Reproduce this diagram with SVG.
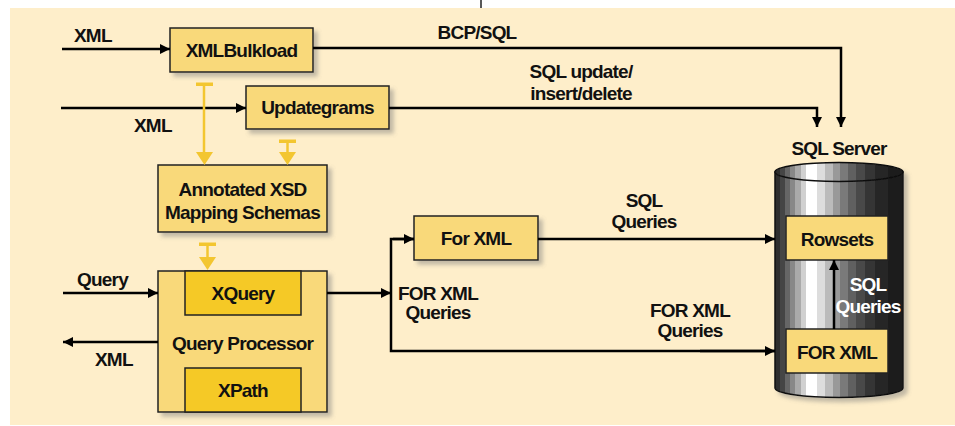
<svg xmlns="http://www.w3.org/2000/svg" width="955" height="426" viewBox="0 0 955 426">
<defs>
<style>
text{font-family:"Liberation Sans",Arial,sans-serif;font-weight:bold;font-size:19px;letter-spacing:-0.8px;fill:#111;text-anchor:middle}
.lbl{text-anchor:start}
.box{fill:#F9D97A;stroke:#222;stroke-width:1.5}
.inner{fill:#F5C926;stroke:#222;stroke-width:1.5}
.ln{fill:none;stroke:#000;stroke-width:2.5}
.yl{fill:none;stroke:#F3C630;stroke-width:2.5}
.ya{fill:#F3C630}
.wt{fill:#fff}
</style>
<filter id="sh" x="-10%" y="-10%" width="130%" height="130%">
<feDropShadow dx="4" dy="4" stdDeviation="2" flood-color="#777" flood-opacity="0.45"/>
</filter>
<marker id="ar" viewBox="0 0 10 10" refX="10" refY="5" markerWidth="10" markerHeight="10" markerUnits="userSpaceOnUse" orient="auto">
<path d="M0,0 L10,5 L0,10 Z" fill="#000"/>
</marker>
<linearGradient id="cyl" x1="0" y1="0" x2="1" y2="0">
<stop offset="0" stop-color="#2e2e2e"/><stop offset="0.04" stop-color="#2e2e2e"/>
<stop offset="0.04" stop-color="#444"/><stop offset="0.08" stop-color="#444"/>
<stop offset="0.08" stop-color="#666"/><stop offset="0.12" stop-color="#666"/>
<stop offset="0.12" stop-color="#888"/><stop offset="0.16" stop-color="#888"/>
<stop offset="0.16" stop-color="#aaa"/><stop offset="0.2" stop-color="#aaa"/>
<stop offset="0.2" stop-color="#d0d0d0"/><stop offset="0.24" stop-color="#d0d0d0"/>
<stop offset="0.24" stop-color="#fff"/><stop offset="0.33" stop-color="#fff"/>
<stop offset="0.33" stop-color="#ddd"/><stop offset="0.39" stop-color="#ddd"/>
<stop offset="0.39" stop-color="#bbb"/><stop offset="0.45" stop-color="#bbb"/>
<stop offset="0.45" stop-color="#999"/><stop offset="0.51" stop-color="#999"/>
<stop offset="0.51" stop-color="#7a7a7a"/><stop offset="0.57" stop-color="#7a7a7a"/>
<stop offset="0.57" stop-color="#606060"/><stop offset="0.63" stop-color="#606060"/>
<stop offset="0.63" stop-color="#4a4a4a"/><stop offset="0.7" stop-color="#4a4a4a"/>
<stop offset="0.7" stop-color="#363636"/><stop offset="0.78" stop-color="#363636"/>
<stop offset="0.78" stop-color="#262626"/><stop offset="0.88" stop-color="#262626"/>
<stop offset="0.88" stop-color="#1c1c1c"/><stop offset="1" stop-color="#1c1c1c"/>
</linearGradient>
</defs>
<rect x="0" y="0" width="955" height="426" fill="#fff"/>
<rect x="10" y="8" width="945" height="417" fill="#FEEECA"/>
<line x1="481" y1="0" x2="481" y2="8" stroke="#222" stroke-width="1.5"/>

<g id="sqlserver">
<g filter="url(#sh)">
<path d="M775,172 L775,388 A64,9.5 0 0 0 903,388 L903,172 Z" fill="url(#cyl)" stroke="#111" stroke-width="1.5"/>
<ellipse cx="839" cy="172" rx="64" ry="9.5" fill="url(#cyl)" stroke="#111" stroke-width="1.5"/>
</g>
<text x="839" y="155">SQL Server</text>
</g>

<g id="rowsets">
<rect class="box" x="786" y="216" width="102" height="44"/>
<text x="837" y="246">Rowsets</text>
</g>
<g id="forxml-db">
<rect class="box" x="786" y="329" width="102" height="44"/>
<text x="837" y="359">FOR XML</text>
</g>

<g id="xmlbulkload">
<rect class="box" filter="url(#sh)" x="170" y="28" width="143" height="44"/>
<text x="241.5" y="57">XMLBulkload</text>
</g>
<g id="updategrams">
<rect class="box" filter="url(#sh)" x="246" y="86" width="143" height="43"/>
<text x="317.5" y="114">Updategrams</text>
</g>
<g id="annotated">
<rect class="box" filter="url(#sh)" x="158" y="165" width="169" height="67"/>
<text x="242.5" y="196">Annotated XSD</text>
<text x="242.5" y="219">Mapping Schemas</text>
</g>
<g id="queryprocessor">
<rect class="box" filter="url(#sh)" x="158" y="271" width="169" height="141"/>
<rect class="inner" x="185" y="271" width="116" height="44"/>
<text x="243" y="300">XQuery</text>
<text x="242.5" y="350">Query Processor</text>
<rect class="inner" x="185" y="368" width="116" height="44"/>
<text x="243" y="397">XPath</text>
</g>
<g id="forxml">
<rect class="box" filter="url(#sh)" x="414" y="216" width="124" height="44"/>
<text x="476" y="245">For XML</text>
</g>

<g id="connectors">
<line class="ln" x1="62" y1="49" x2="170" y2="49" marker-end="url(#ar)"/>
<line class="ln" x1="61" y1="108" x2="246" y2="108" marker-end="url(#ar)"/>
<polyline class="ln" points="313,48 841,48 841,127" marker-end="url(#ar)"/>
<polyline class="ln" points="389,108 817,108 817,127" marker-end="url(#ar)"/>
<line class="ln" x1="63" y1="293" x2="158" y2="293" marker-end="url(#ar)"/>
<line class="ln" x1="158" y1="342" x2="63" y2="342" marker-end="url(#ar)"/>
<line class="ln" x1="327" y1="293" x2="391" y2="293" marker-end="url(#ar)"/>
<polyline class="ln" points="414,239 391,239 391,351 775,351" fill="none"/>
<line class="ln" x1="393" y1="239" x2="414" y2="239" marker-end="url(#ar)"/>
<line class="ln" x1="700" y1="351" x2="775" y2="351" marker-end="url(#ar)"/>
<line class="ln" x1="538" y1="239" x2="775" y2="239" marker-end="url(#ar)"/>
<line class="ln" x1="834" y1="329" x2="834" y2="260" marker-end="url(#ar)"/>

<line class="yl" x1="204" y1="84" x2="204" y2="155"/>
<rect class="ya" x="196" y="82.5" width="17" height="3.5"/>
<path class="ya" d="M196,152 L213,152 L204.5,165 Z"/>
<line class="yl" x1="287.5" y1="141" x2="287.5" y2="155"/>
<rect class="ya" x="279" y="139.5" width="17" height="3.5"/>
<path class="ya" d="M279,152 L296,152 L287.5,165 Z"/>
<line class="yl" x1="207.5" y1="244" x2="207.5" y2="259"/>
<rect class="ya" x="199" y="242.5" width="17" height="3.5"/>
<path class="ya" d="M199,257 L216,257 L207.5,270 Z"/>

<text class="lbl" x="74" y="42">XML</text>
<text class="lbl" x="134" y="132">XML</text>
<text x="477" y="39">BCP/SQL</text>
<text x="581" y="78">SQL update/</text>
<text x="581" y="100">insert/delete</text>
<text class="lbl" x="77" y="286">Query</text>
<text class="lbl" x="95" y="366">XML</text>
<text x="438" y="300">FOR XML</text>
<text x="438" y="319">Queries</text>
<text x="644" y="207">SQL</text>
<text x="644" y="228">Queries</text>
<text x="690" y="317">FOR XML</text>
<text x="690" y="337">Queries</text>
<text class="wt" x="868" y="291">SQL</text>
<text class="wt" x="868" y="313">Queries</text>
</g>
</svg>
